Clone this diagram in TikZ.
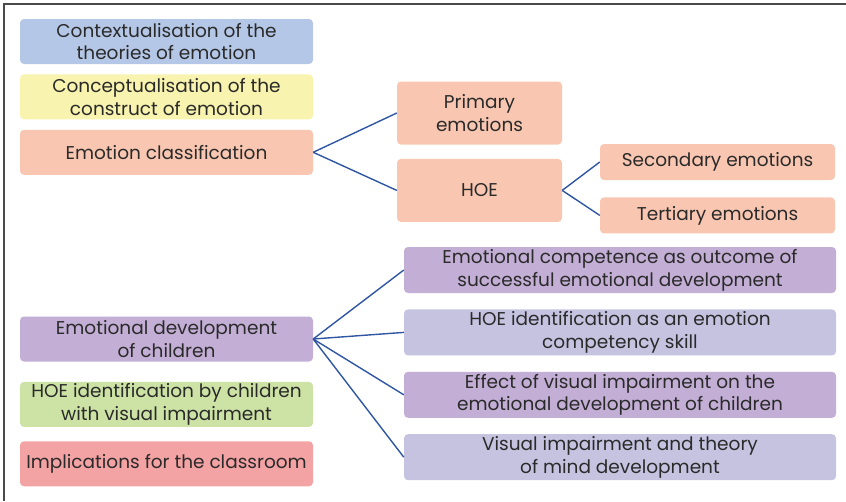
\documentclass[tikz,border=0pt]{standalone}
\usepackage{fontspec}
\setmainfont{Poppins}
\usepackage{tikz}
\usetikzlibrary{positioning}
\definecolor{ctxblue}{HTML}{B4C7E7}
\definecolor{cptyellow}{HTML}{F8F3AE}
\definecolor{clssalmon}{HTML}{F9C7B1}
\definecolor{devpurple}{HTML}{C3AED5}
\definecolor{devlav}{HTML}{C6C3E1}
\definecolor{idgreen}{HTML}{CDE3A5}
\definecolor{impink}{HTML}{F4A3A4}
\definecolor{linkblue}{HTML}{2E56A3}
\definecolor{txtgray}{HTML}{2A2A2A}
\definecolor{framegray}{HTML}{4A4A4A}

\begin{document}
\begin{tikzpicture}[x=1pt,y=-1pt,
	every node/.style={font=\fontsize{18.5}{22.7}\selectfont},
	box/.style={rectangle,rounded corners=4pt,inner sep=0pt,align=center,text=txtgray},
	leftbox/.style={box,minimum width=293pt,minimum height=45pt},
	midbox/.style={box,fill=clssalmon,minimum width=165pt,minimum height=63pt},
	subbox/.style={box,fill=clssalmon,minimum width=235pt,minimum height=36pt},
	rightbox/.style={box,minimum width=432pt,minimum height=46pt},
	link/.style={draw=linkblue,line width=1.4pt}]
	\useasboundingbox (0,0) rectangle (846,501);
	\draw[framegray,line width=1.5pt] (846,4) -- (4,4) -- (4,501);

	% left column
	\node[leftbox,fill=ctxblue] (ctx) at (166.5,41.5) {Contextualisation of the\\theories of emotion};
	\node[leftbox,fill=cptyellow] (cpt) [below=10pt of ctx] {Conceptualisation of the\\construct of emotion};
	\node[leftbox,fill=clssalmon] (cls) [below=10pt of cpt] {Emotion classification};
	\node[leftbox,fill=devpurple] (dev) at (166.5,339) {Emotional development\\of children};
	\node[leftbox,fill=idgreen] (hoeid) [below=20pt of dev] {HOE identification by children\\with visual impairment};
	\node[leftbox,fill=impink] (impl) [below=14pt of hoeid] {Implications for the classroom};

	% emotion classification branch
	\node[midbox] (prim) at (479.5,113) {Primary\\emotions};
	\node[midbox] (hoe) [below=14pt of prim] {HOE};
	\node[subbox] (sec) at (717.5,162) {Secondary emotions};
	\node[subbox] (ter) [below=17pt of sec] {Tertiary emotions};

	% emotional development branch
	\node[rightbox,fill=devpurple] (comp) at (620,270) {Emotional competence as outcome of\\successful emotional development};
	\node[rightbox,fill=devlav] (skill) [below=16pt of comp] {HOE identification as an emotion\\competency skill};
	\node[rightbox,fill=devpurple] (eff) [below=16pt of skill] {Effect of visual impairment on the\\emotional development of children};
	\node[rightbox,fill=devlav] (tom) [below=16pt of eff] {Visual impairment and theory\\of mind development};

	\path[link]
	(cls.east) edge (prim.west)
	(cls.east) edge (hoe.west)
	(hoe.east) edge (sec.west)
	(hoe.east) edge (ter.west)
	(dev.east) edge (comp.west)
	(dev.east) edge (skill.west)
	(dev.east) edge (eff.west)
	(dev.east) edge (tom.west)
	;
\end{tikzpicture}
\end{document}
